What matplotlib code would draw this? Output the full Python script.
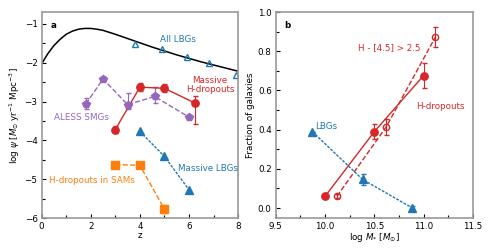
import numpy as np
import matplotlib
matplotlib.use('Agg')
import matplotlib.pyplot as plt
from matplotlib.ticker import MultipleLocator

# ---- panel a: cosmic SFR density ----
# black curve
curve_z = [0, 0.25, 0.5, 0.75, 1.0, 1.25, 1.5, 1.75, 2.0, 2.25, 2.5, 2.75, 3.0, 3.5,
           4.0, 4.5, 5.0, 5.5, 6.0, 6.5, 7.0, 7.5, 8.0]
curve_psi = [-2.03, -1.77, -1.56, -1.40, -1.27, -1.19, -1.14, -1.12, -1.12, -1.14,
             -1.17, -1.22, -1.27, -1.38, -1.49, -1.60, -1.70, -1.80, -1.89, -1.98,
             -2.06, -2.14, -2.22]

all_lbg_z = [3.8, 4.9, 5.9, 6.8, 7.93]
all_lbg_psi = [-1.52, -1.65, -1.86, -2.01, -2.31]

hdrop_z = [3.0, 4.0, 5.0, 6.25]
hdrop_psi = [-3.72, -2.63, -2.66, -3.04]
hdrop_err_lo = [0.10, 0.10, 0.10, 0.53]
hdrop_err_hi = [0.10, 0.10, 0.10, 0.19]

aless_z = [1.8, 2.5, 3.5, 4.6, 6.0]
aless_psi = [-3.06, -2.42, -3.08, -2.87, -3.40]
aless_err_lo = [0.14, 0.05, 0.10, 0.16, 0.05]
aless_err_hi = [0.14, 0.05, 0.29, 0.25, 0.05]

mlbg_z = [4.0, 5.0, 6.0]
mlbg_psi = [-3.77, -4.41, -5.27]

sam_z = [3.0, 4.0, 5.0]
sam_psi = [-4.62, -4.64, -5.77]
sam_err = [0.0, 0.0, 0.1]

# ---- panel b: fraction of galaxies vs stellar mass ----
hd_mass = [10.0, 10.5, 11.0]
hd_frac = [0.06, 0.39, 0.676]
hd_err = [0.01, 0.04, 0.063]

col_mass = [10.12, 10.62, 11.12]
col_frac = [0.06, 0.414, 0.873]
col_err = [0.01, 0.04, 0.05]

lbg_mass = [9.87, 10.38, 10.88]
lbg_frac = [0.39, 0.146, 0.002]
lbg_err = [0.0, 0.03, 0.01]

blue = '#1f77b4'
red = '#d62728'
purple = '#9467bd'
orange = '#ff7f0e'
fs = 6.3

plt.rcParams['font.size'] = fs
fig = plt.figure(figsize=(4.9, 2.52), dpi=100)
ax1 = fig.add_axes([0.085, 0.134, 0.401, 0.818])
ax2 = fig.add_axes([0.563, 0.134, 0.402, 0.818])

# panel a
ax1.plot(curve_z, curve_psi, color='black', lw=1.1)
ax1.plot(all_lbg_z, all_lbg_psi, ls='none', marker='^', mfc='none', mec=blue,
         ms=4.5, mew=1.0)
ax1.errorbar(hdrop_z, hdrop_psi, yerr=[hdrop_err_lo, hdrop_err_hi], color=red,
             marker='o', ms=5.3, lw=1.0, capsize=1.8, elinewidth=0.8)
ax1.errorbar(aless_z, aless_psi, yerr=[aless_err_lo, aless_err_hi], color=purple,
             marker='p', ms=5.3, ls='--', lw=1.0, capsize=1.8, elinewidth=0.8)
ax1.plot(mlbg_z, mlbg_psi, color=blue, marker='^', ms=5.5, ls=(0, (2, 1)), lw=1.0)
ax1.errorbar(sam_z, sam_psi, yerr=sam_err, color=orange, marker='s', ms=5.3,
             ls='--', lw=1.0, capsize=1.8, elinewidth=0.8)

ax1.text(4.81, -1.41, 'All LBGs', color=blue, ha='left', va='center', fontsize=fs)
ax1.text(6.85, -2.58, 'Massive\nH-dropouts', color=red, ha='center', va='center',
         fontsize=fs, linespacing=1.05)
ax1.text(0.5, -3.41, 'ALESS SMGs', color=purple, ha='left', va='center', fontsize=fs)
ax1.text(0.3, -5.03, 'H-dropouts in SAMs', color=orange, ha='left', va='center',
         fontsize=fs)
ax1.text(5.54, -4.71, 'Massive LBGs', color=blue, ha='left', va='center', fontsize=fs)
ax1.text(0.06, 0.937, 'a', transform=ax1.transAxes, fontweight='bold',
         ha='center', va='center', fontsize=fs)

ax1.set_xlim(0, 8)
ax1.set_ylim(-6, -0.7)
ax1.xaxis.set_major_locator(MultipleLocator(2))
ax1.xaxis.set_minor_locator(MultipleLocator(1))
ax1.yaxis.set_major_locator(MultipleLocator(1))
ax1.yaxis.set_minor_locator(MultipleLocator(0.5))
ax1.set_xlabel('z', labelpad=0)
ax1.set_ylabel(r'log $\psi$ [$M_{\odot}$ yr$^{-1}$ Mpc$^{-3}$]', labelpad=2)

# panel b
ax2.errorbar(hd_mass, hd_frac, yerr=hd_err, color=red, marker='o', ms=5.3, lw=1.0,
             capsize=1.8, elinewidth=0.8)
ax2.errorbar(col_mass, col_frac, yerr=col_err, color=red, marker='o', ms=4.5,
             mfc='none', mew=1.0, ls='--', lw=1.0, capsize=1.8, elinewidth=0.8)
ax2.errorbar(lbg_mass, lbg_frac, yerr=lbg_err, color=blue, marker='^', ms=5.5,
             ls=(0, (2, 1)), lw=1.0, capsize=1.8, elinewidth=0.8)

ax2.text(10.65, 0.82, 'H - [4.5] > 2.5', color=red, ha='center', va='center',
         fontsize=fs)
ax2.text(11.17, 0.516, 'H-dropouts', color=red, ha='center', va='center', fontsize=fs)
ax2.text(9.9, 0.418, 'LBGs', color=blue, ha='left', va='center', fontsize=fs)
ax2.text(0.06, 0.937, 'b', transform=ax2.transAxes, fontweight='bold',
         ha='center', va='center', fontsize=fs)

ax2.set_xlim(9.5, 11.5)
ax2.set_ylim(-0.052, 1.0)
ax2.xaxis.set_major_locator(MultipleLocator(0.5))
ax2.xaxis.set_minor_locator(MultipleLocator(0.25))
ax2.yaxis.set_major_locator(MultipleLocator(0.2))
ax2.yaxis.set_minor_locator(MultipleLocator(0.1))
ax2.set_xlabel(r'log $M_{*}$ [$M_{\odot}$]', labelpad=0)
ax2.set_ylabel('Fraction of galaxies', labelpad=2)

for ax in (ax1, ax2):
    for sp in ax.spines.values():
        sp.set_color('#999999')
        sp.set_linewidth(1.2)
    ax.tick_params(which='both', direction='in', labelsize=fs, pad=3)
    ax.tick_params(which='major', length=3, width=0.8)
    ax.tick_params(which='minor', length=2, width=0.8)

fig.savefig('out.png', dpi=100)
